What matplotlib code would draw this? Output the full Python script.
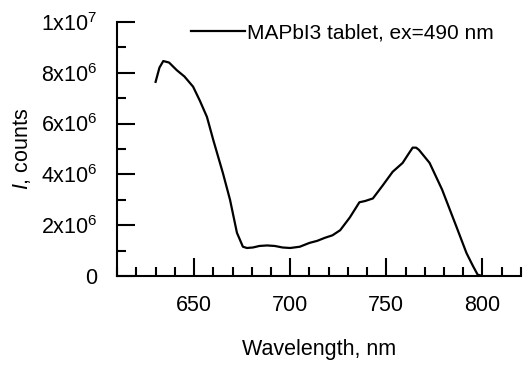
import matplotlib.pyplot as plt
from matplotlib.ticker import MultipleLocator, FixedLocator

plt.rcParams['font.family'] = ['Liberation Sans', 'DejaVu Sans']
plt.rcParams['mathtext.fontset'] = 'custom'
plt.rcParams['mathtext.rm'] = 'Liberation Sans'
plt.rcParams['mathtext.it'] = 'Liberation Sans:italic'

# PL spectrum
wavelength = [630, 632, 634, 637, 641, 645, 649.5, 653, 656.7, 660, 665, 668.7, 672.3,
              675.4, 677.5, 680.6, 684, 688, 692, 696, 700, 705, 710, 714, 718, 722,
              726, 731, 736, 739, 743, 748, 753.3, 758.5, 761.5, 763.7, 765.5, 767,
              772.5, 779, 786.5, 791.7, 795, 797.5, 800]
counts = [7.64e6, 8.2e6, 8.46e6, 8.4e6, 8.1e6, 7.85e6, 7.45e6, 6.9e6, 6.26e6, 5.35e6,
          4.05e6, 3.0e6, 1.7e6, 1.15e6, 1.1e6, 1.12e6, 1.18e6, 1.2e6, 1.18e6, 1.12e6,
          1.1e6, 1.15e6, 1.3e6, 1.38e6, 1.5e6, 1.6e6, 1.8e6, 2.3e6, 2.9e6, 2.95e6,
          3.05e6, 3.55e6, 4.1e6, 4.45e6, 4.8e6, 5.05e6, 5.05e6, 4.96e6, 4.45e6, 3.4e6,
          1.93e6, 0.9e6, 0.4e6, 0.05e6, 0.0]

y_ticks = [0, 2e6, 4e6, 6e6, 8e6, 1e7]
y_labels = ['0', r'$\mathregular{2x10^{6}}$', r'$\mathregular{4x10^{6}}$',
            r'$\mathregular{6x10^{6}}$', r'$\mathregular{8x10^{6}}$',
            r'$\mathregular{1x10^{7}}$']

fig = plt.figure(figsize=(5.23, 3.65), dpi=100)
ax = fig.add_axes([0.224, 0.244, 0.772, 0.696])

ax.plot(wavelength, counts, color='black', lw=1.6, label='MAPbI3 tablet, ex=490 nm')

ax.set_xlim(610, 820)
ax.set_ylim(0, 1e7)
ax.xaxis.set_major_locator(FixedLocator([650, 700, 750, 800]))
ax.xaxis.set_minor_locator(MultipleLocator(10))
ax.set_yticks(y_ticks)
ax.set_yticklabels(y_labels)
ax.yaxis.set_minor_locator(MultipleLocator(1e6))

for s in ['top', 'right']:
    ax.spines[s].set_visible(False)
for s in ['left', 'bottom']:
    ax.spines[s].set_linewidth(1.5)

ax.tick_params(which='both', direction='in', width=1.5, labelsize=15.5, colors='black')
ax.tick_params(which='major', length=13)
ax.tick_params(which='minor', length=6.5)
ax.tick_params(axis='y', which='major', pad=14)
ax.tick_params(axis='x', which='major', pad=14)

ax.set_xlabel('Wavelength, nm', fontsize=15.5, labelpad=16)
ax.set_ylabel(r'$\mathit{I}$, counts', fontsize=15.5, labelpad=6)

ax.legend(loc='upper left', bbox_to_anchor=(0.137, 1.067), frameon=False, fontsize=15,
          handlelength=2.6, handletextpad=0.1)

fig.savefig('out.png')
